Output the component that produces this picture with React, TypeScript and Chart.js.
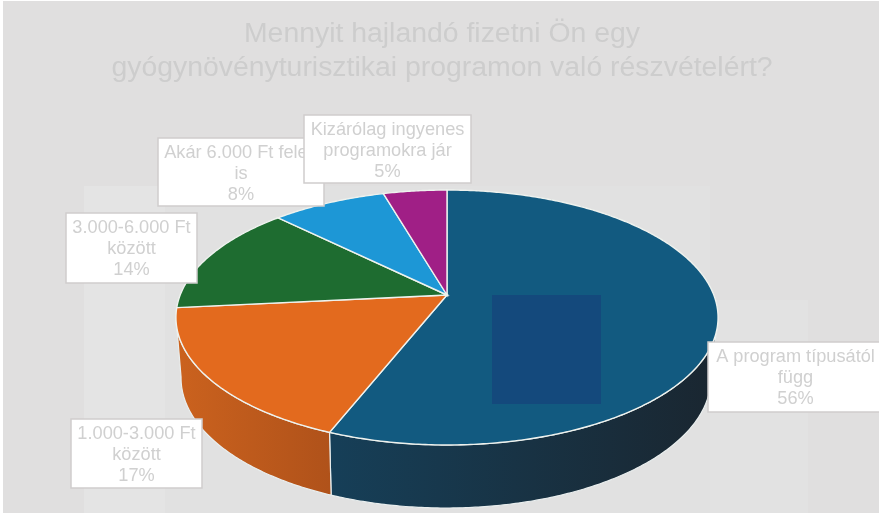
import React, { useEffect, useRef } from "react";
import { Chart, ArcElement, PieController, Title } from "chart.js";

const sliceNames = [
  "A program típusától függ",
  "1.000-3.000 Ft között",
  "3.000-6.000 Ft között",
  "Akár 6.000 Ft felett is",
  "Kizárólag ingyenes programokra jár",
];
const sliceValues = [56, 17.4, 14, 8.1, 4.5];
const labelLines = [
  ["A program típusától", "függ"],
  ["1.000-3.000 Ft", "között"],
  ["3.000-6.000 Ft", "között"],
  ["Akár 6.000 Ft felett", "is"],
  ["Kizárólag ingyenes", "programokra jár"],
];
const titleLines = [
  "Mennyit hajlandó fizetni Ön egy",
  "gyógynövényturisztikai programon való részvételért?",
];
const faceColors = ["#125a80", "#e36a1e", "#1e6c30", "#1d97d6", "#a01f86"];
const wallStart = ["#163f58", "#cb621e", "#164f24", "#14709f", "#761764"];
const wallEnd = ["#1a2630", "#b0521a", "#164f24", "#14709f", "#761764"];

// order in which label boxes are stacked, and their rectangles
const boxOrder = [0, 1, 2, 3, 4];
const boxes = [
  { x: 708, y: 342, w: 175, h: 70 },
  { x: 71, y: 419, w: 131, h: 69 },
  { x: 66, y: 213, w: 131, h: 70 },
  { x: 158, y: 138, w: 166, h: 68 },
  { x: 304, y: 115, w: 167, h: 68 },
];

const W = 879;
const H = 513;
const K = 0.1765;
const topFace = { cx: 447, cy: 295, a: 266.8, b: 123.5 };
const bottomFace = { cx: 446, cy: 355, a: 260.8, b: 126 };

function project(f: typeof topFace, ang: number) {
  const u = Math.cos(ang);
  const v = Math.sin(ang);
  const w = 1 - K * v;
  return { x: f.cx + (f.a * u) / w, y: f.cy + (f.b * v) / w };
}

function tracePath(ctx: CanvasRenderingContext2D, f: typeof topFace, s: number, e: number, move: boolean) {
  const n = Math.max(2, Math.ceil(Math.abs(e - s) / 0.01));
  for (let i = 0; i <= n; i++) {
    const p = project(f, s + ((e - s) * i) / n);
    if (i === 0 && move) ctx.moveTo(p.x, p.y);
    else ctx.lineTo(p.x, p.y);
  }
}

class Arc3D extends ArcElement {
  static id = "arc3d";
  draw(ctx: CanvasRenderingContext2D) {
    const { startAngle, endAngle } = (this as any).getProps(["startAngle", "endAngle"]);
    const i = (this as any).$context?.dataIndex ?? 0;
    // near-side wall
    const lo = 0.17;
    const hi = Math.PI - 0.17;
    const twoPi = Math.PI * 2;
    for (const shift of [0, -twoPi]) {
      const s = Math.max(startAngle + shift, lo);
      const e = Math.min(endAngle + shift, hi);
      if (e > s) {
        const a = project(topFace, s);
        const b = project(topFace, e);
        const g = ctx.createLinearGradient(Math.max(a.x, b.x), 0, Math.min(a.x, b.x), 0);
        g.addColorStop(0, wallEnd[i]);
        g.addColorStop(1, wallStart[i]);
        ctx.beginPath();
        tracePath(ctx, topFace, s, e, true);
        tracePath(ctx, bottomFace, e, s, false);
        ctx.closePath();
        ctx.fillStyle = g;
        ctx.fill();
        ctx.strokeStyle = "#e9eeee";
        ctx.lineWidth = 1.2;
        ctx.stroke();
      }
    }
    // top face
    ctx.beginPath();
    ctx.moveTo(topFace.cx, topFace.cy);
    tracePath(ctx, topFace, startAngle, endAngle, false);
    ctx.closePath();
    ctx.fillStyle = faceColors[i];
    ctx.fill();
    ctx.strokeStyle = "#eef2ee";
    ctx.lineWidth = 1.4;
    ctx.stroke();
  }
}

class Pie3DController extends PieController {
  static id = "pie3d";
  static defaults = { ...PieController.defaults, dataElementType: "arc3d" };
}

const backdrop = {
  id: "backdrop",
  beforeDraw(chart: Chart) {
    const c = chart.ctx;
    c.save();
    c.fillStyle = "#ffffff";
    c.fillRect(0, 0, W, H);
    c.fillStyle = "#e0dfdf";
    c.fillRect(3, 1, W - 3, H - 1);
    c.fillStyle = "#e4e4e4";
    c.fillRect(84, 186, 81, H - 186);
    c.fillStyle = "#e1e1e1";
    c.fillRect(165, 186, 545, H - 186);
    c.fillStyle = "#e2e2e2";
    c.fillRect(710, 300, 98, H - 300);
    c.restore();
  },
};

const overlays = {
  id: "overlays",
  afterDatasetsDraw(chart: Chart) {
    const c = chart.ctx;
    c.save();
    c.fillStyle = "#14497c";
    c.fillRect(492, 295, 109, 109);
    c.font = '18.2px "Liberation Sans", Arial, sans-serif';
    c.textAlign = "center";
    c.textBaseline = "middle";
    const values = chart.data.datasets[0].data as number[];
    for (const i of boxOrder) {
      const b = boxes[i];
      c.fillStyle = "#ffffff";
      c.strokeStyle = "#cfcdcd";
      c.lineWidth = 1.5;
      c.fillRect(b.x, b.y, b.w, b.h);
      c.strokeRect(b.x, b.y, b.w, b.h);
      c.fillStyle = "#d0d0d0";
      const lines = [...labelLines[i], `${Math.round(values[i])}%`];
      lines.forEach((t, j) => {
        c.fillText(t, b.x + b.w / 2, b.y + 15 + j * 21);
      });
    }
    c.restore();
  },
};

Chart.register(ArcElement, PieController, Title, Arc3D, Pie3DController);

export default function App() {
  const ref = useRef<HTMLCanvasElement>(null);
  useEffect(() => {
    if (!ref.current) return;
    const chart = new Chart(ref.current, {
      type: "pie3d" as any,
      data: {
        labels: sliceNames,
        datasets: [{ data: sliceValues, backgroundColor: faceColors, borderWidth: 0 }],
      },
      options: {
        responsive: false,
        animation: false,
        layout: { padding: { left: 5 } },
        events: [],
        plugins: {
          legend: { display: false },
          tooltip: { enabled: false },
          title: {
            display: true,
            text: titleLines,
            color: "#cdcdcd",
            font: { family: '"Liberation Sans", Arial, sans-serif', size: 28.4, weight: "normal", lineHeight: 1.17 },
            padding: { top: 18, bottom: 10 },
          },
        },
      } as any,
      plugins: [backdrop, overlays],
    });
    return () => chart.destroy();
  }, []);
  return (
    <div style={{ position: "absolute", left: 0, top: 0, width: W, height: H }}>
      <canvas ref={ref} width={W} height={H} style={{ display: "block" }} />
    </div>
  );
}
